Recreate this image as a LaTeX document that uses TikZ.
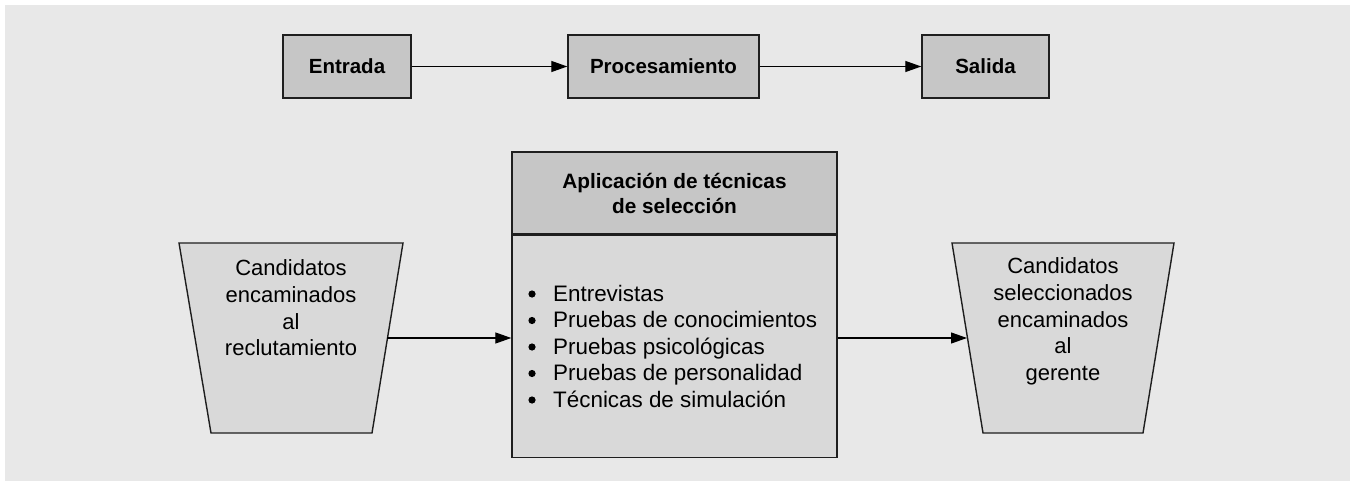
\documentclass[tikz,border=0pt]{standalone}
\usepackage{fontspec}
\setmainfont{Liberation Sans}
\usetikzlibrary{arrows.meta}
\definecolor{bgc}{HTML}{E8E8E8}
\definecolor{darkfill}{HTML}{C6C6C6}
\definecolor{lightfill}{HTML}{D9D9D9}
\definecolor{edge}{HTML}{1E1E1E}
\newcommand{\bul}{\hspace*{25pt}}
\begin{document}
\begin{tikzpicture}[x=1pt,y=-1pt,
  topbox/.style={draw=edge,fill=darkfill,line width=1.4pt,inner sep=0pt,
    minimum height=63pt,font=\fontsize{20.5}{25}\selectfont\bfseries},
  flow/.style={line width=1.2pt,-{Triangle[length=16pt,width=11pt]}},
  trap/.style={draw=edge,fill=lightfill,line width=1.4pt,line join=miter},
  plain/.style={inner sep=0pt,align=center,font=\fontsize{22}{26.7}\selectfont},
  dot/.style={fill=black}
]
\useasboundingbox (0,0) rectangle (1356,481);
\fill[bgc] (5,5) rectangle (1350,481);

% top row
\node[topbox,minimum width=128pt] (ent) at (347,66.5) {Entrada};
\node[topbox,minimum width=191pt] (proc) at (663.5,66.5) {Procesamiento};
\node[topbox,minimum width=127pt] (sal) at (985.5,66.5) {Salida};
\draw[flow] (ent.east) -- (proc.west);
\draw[flow] (proc.east) -- (sal.west);

% middle box
\node[draw=edge,fill=darkfill,line width=1.4pt,inner sep=0pt,
  minimum width=325pt,minimum height=82pt,align=center,
  font=\fontsize{20.8}{25}\selectfont\bfseries] (head) at (674.5,193)
  {Aplicación de técnicas\\de selección};
\node[draw=edge,fill=lightfill,line width=1.4pt,inner sep=0pt,
  minimum width=325pt,minimum height=222pt,anchor=north] (body) at (head.south) {};
\node[inner sep=0pt,align=left,anchor=west,font=\fontsize{22.4}{26.5}\selectfont] (list) at (528,346)
  {\bul Entrevistas\\
   \bul Pruebas de conocimientos\\
   \bul Pruebas psicológicas\\
   \bul Pruebas de personalidad\\
   \bul Técnicas de simulación};
\foreach \k in {0,...,4}
  \fill[dot] (532,{294+26.5*\k}) circle (3.6);

% left trapezoid
\draw[trap] (179,243) -- (403,243) -- (372,433) -- (211,433) -- cycle;
\node[plain] (lt) at (291,308) {Candidatos\\encaminados\\al\\reclutamiento};
\coordinate (ltout) at (387,338);

% right trapezoid
\draw[trap] (952,243) -- (1174,243) -- (1143,433) -- (983,433) -- cycle;
\node[plain] (rt) at (1063,321.5) {Candidatos\\seleccionados\\encaminados\\al\\gerente};
\coordinate (rtin) at (967,338);

\draw[flow] (ltout) -- (ltout -| body.west);
\draw[flow] (ltout -| body.east) -- (rtin);
\end{tikzpicture}
\end{document}
